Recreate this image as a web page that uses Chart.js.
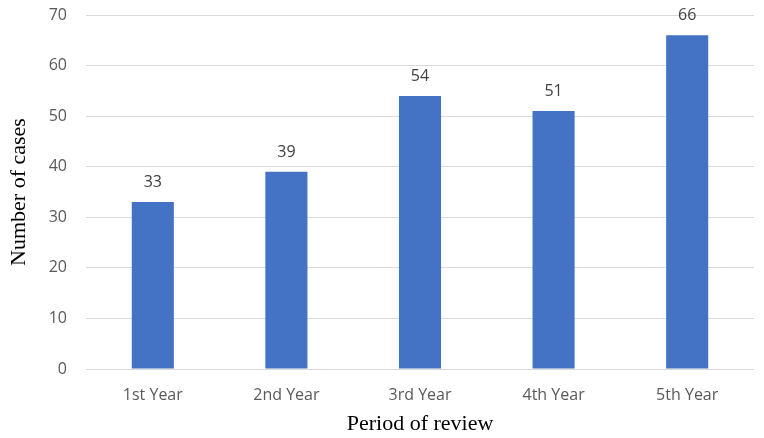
<!DOCTYPE html>
<html>
<head>
<meta charset="utf-8">
<script src="https://cdn.jsdelivr.net/npm/chart.js@4/dist/chart.umd.min.js"></script>
<style>
  html, body { margin: 0; padding: 0; background: #fff; }
  #wrap { width: 764px; height: 438px; position: relative; }
</style>
</head>
<body>
<div id="wrap"><canvas id="chartCasos"></canvas></div>
<script>
// dados
const periodos = ['1st Year', '2nd Year', '3rd Year', '4th Year', '5th Year'];
const casos = [33, 39, 54, 51, 66];
const yMin = 0;
const yMax = 70;
const yStep = 10;

// rótulos de valor acima das barras
const rotulosBarras = {
  id: 'rotulosBarras',
  afterDatasetsDraw(chart) {
    const ctx = chart.ctx;
    const meta = chart.getDatasetMeta(0);
    ctx.save();
    ctx.font = '16px "Open Sans"';
    ctx.fillStyle = '#404040';
    ctx.textAlign = 'center';
    ctx.textBaseline = 'alphabetic';
    meta.data.forEach(function(bar, i) {
      ctx.fillText(String(chart.data.datasets[0].data[i]), bar.x, bar.y - 15);
    });
    ctx.restore();
  }
};

const ctx = document.getElementById('chartCasos').getContext('2d');
new Chart(ctx, {
  type: 'bar',
  data: {
    labels: periodos,
    datasets: [{
      data: casos,
      backgroundColor: '#4472C4',
      borderWidth: 0,
      categoryPercentage: 1,
      barPercentage: 0.315
    }]
  },
  options: {
    responsive: true,
    maintainAspectRatio: false,
    animation: false,
    layout: { padding: { top: 15, right: 10, bottom: 0, left: 0 } },
    plugins: {
      legend: { display: false },
      tooltip: { enabled: false }
    },
    scales: {
      x: {
        grid: { display: false, drawTicks: false },
        border: { display: false },
        ticks: {
          color: '#595959',
          font: { family: 'Open Sans', size: 16 },
          padding: 17,
          maxRotation: 0
        },
        title: {
          display: true,
          text: 'Period of review',
          color: '#000',
          font: { family: 'Liberation Serif', size: 22 },
          padding: { top: 0, bottom: 1 }
        },
        afterFit: function(scale) { scale.height = 69; }
      },
      y: {
        min: yMin,
        max: yMax,
        ticks: {
          stepSize: yStep,
          color: '#595959',
          font: { family: 'Open Sans', size: 16 },
          padding: 19
        },
        grid: { color: '#d9d9d9', lineWidth: 1, drawTicks: false },
        border: { display: false },
        title: {
          display: true,
          text: 'Number of cases',
          color: '#000',
          font: { family: 'Liberation Serif', size: 22 },
          padding: { top: 6, bottom: 0 }
        },
        afterFit: function(scale) {
          scale.width = 86;
          scale.paddingTop = 0;
          scale.paddingBottom = 0;
        }
      }
    }
  },
  plugins: [rotulosBarras]
});
</script>
</body>
</html>
